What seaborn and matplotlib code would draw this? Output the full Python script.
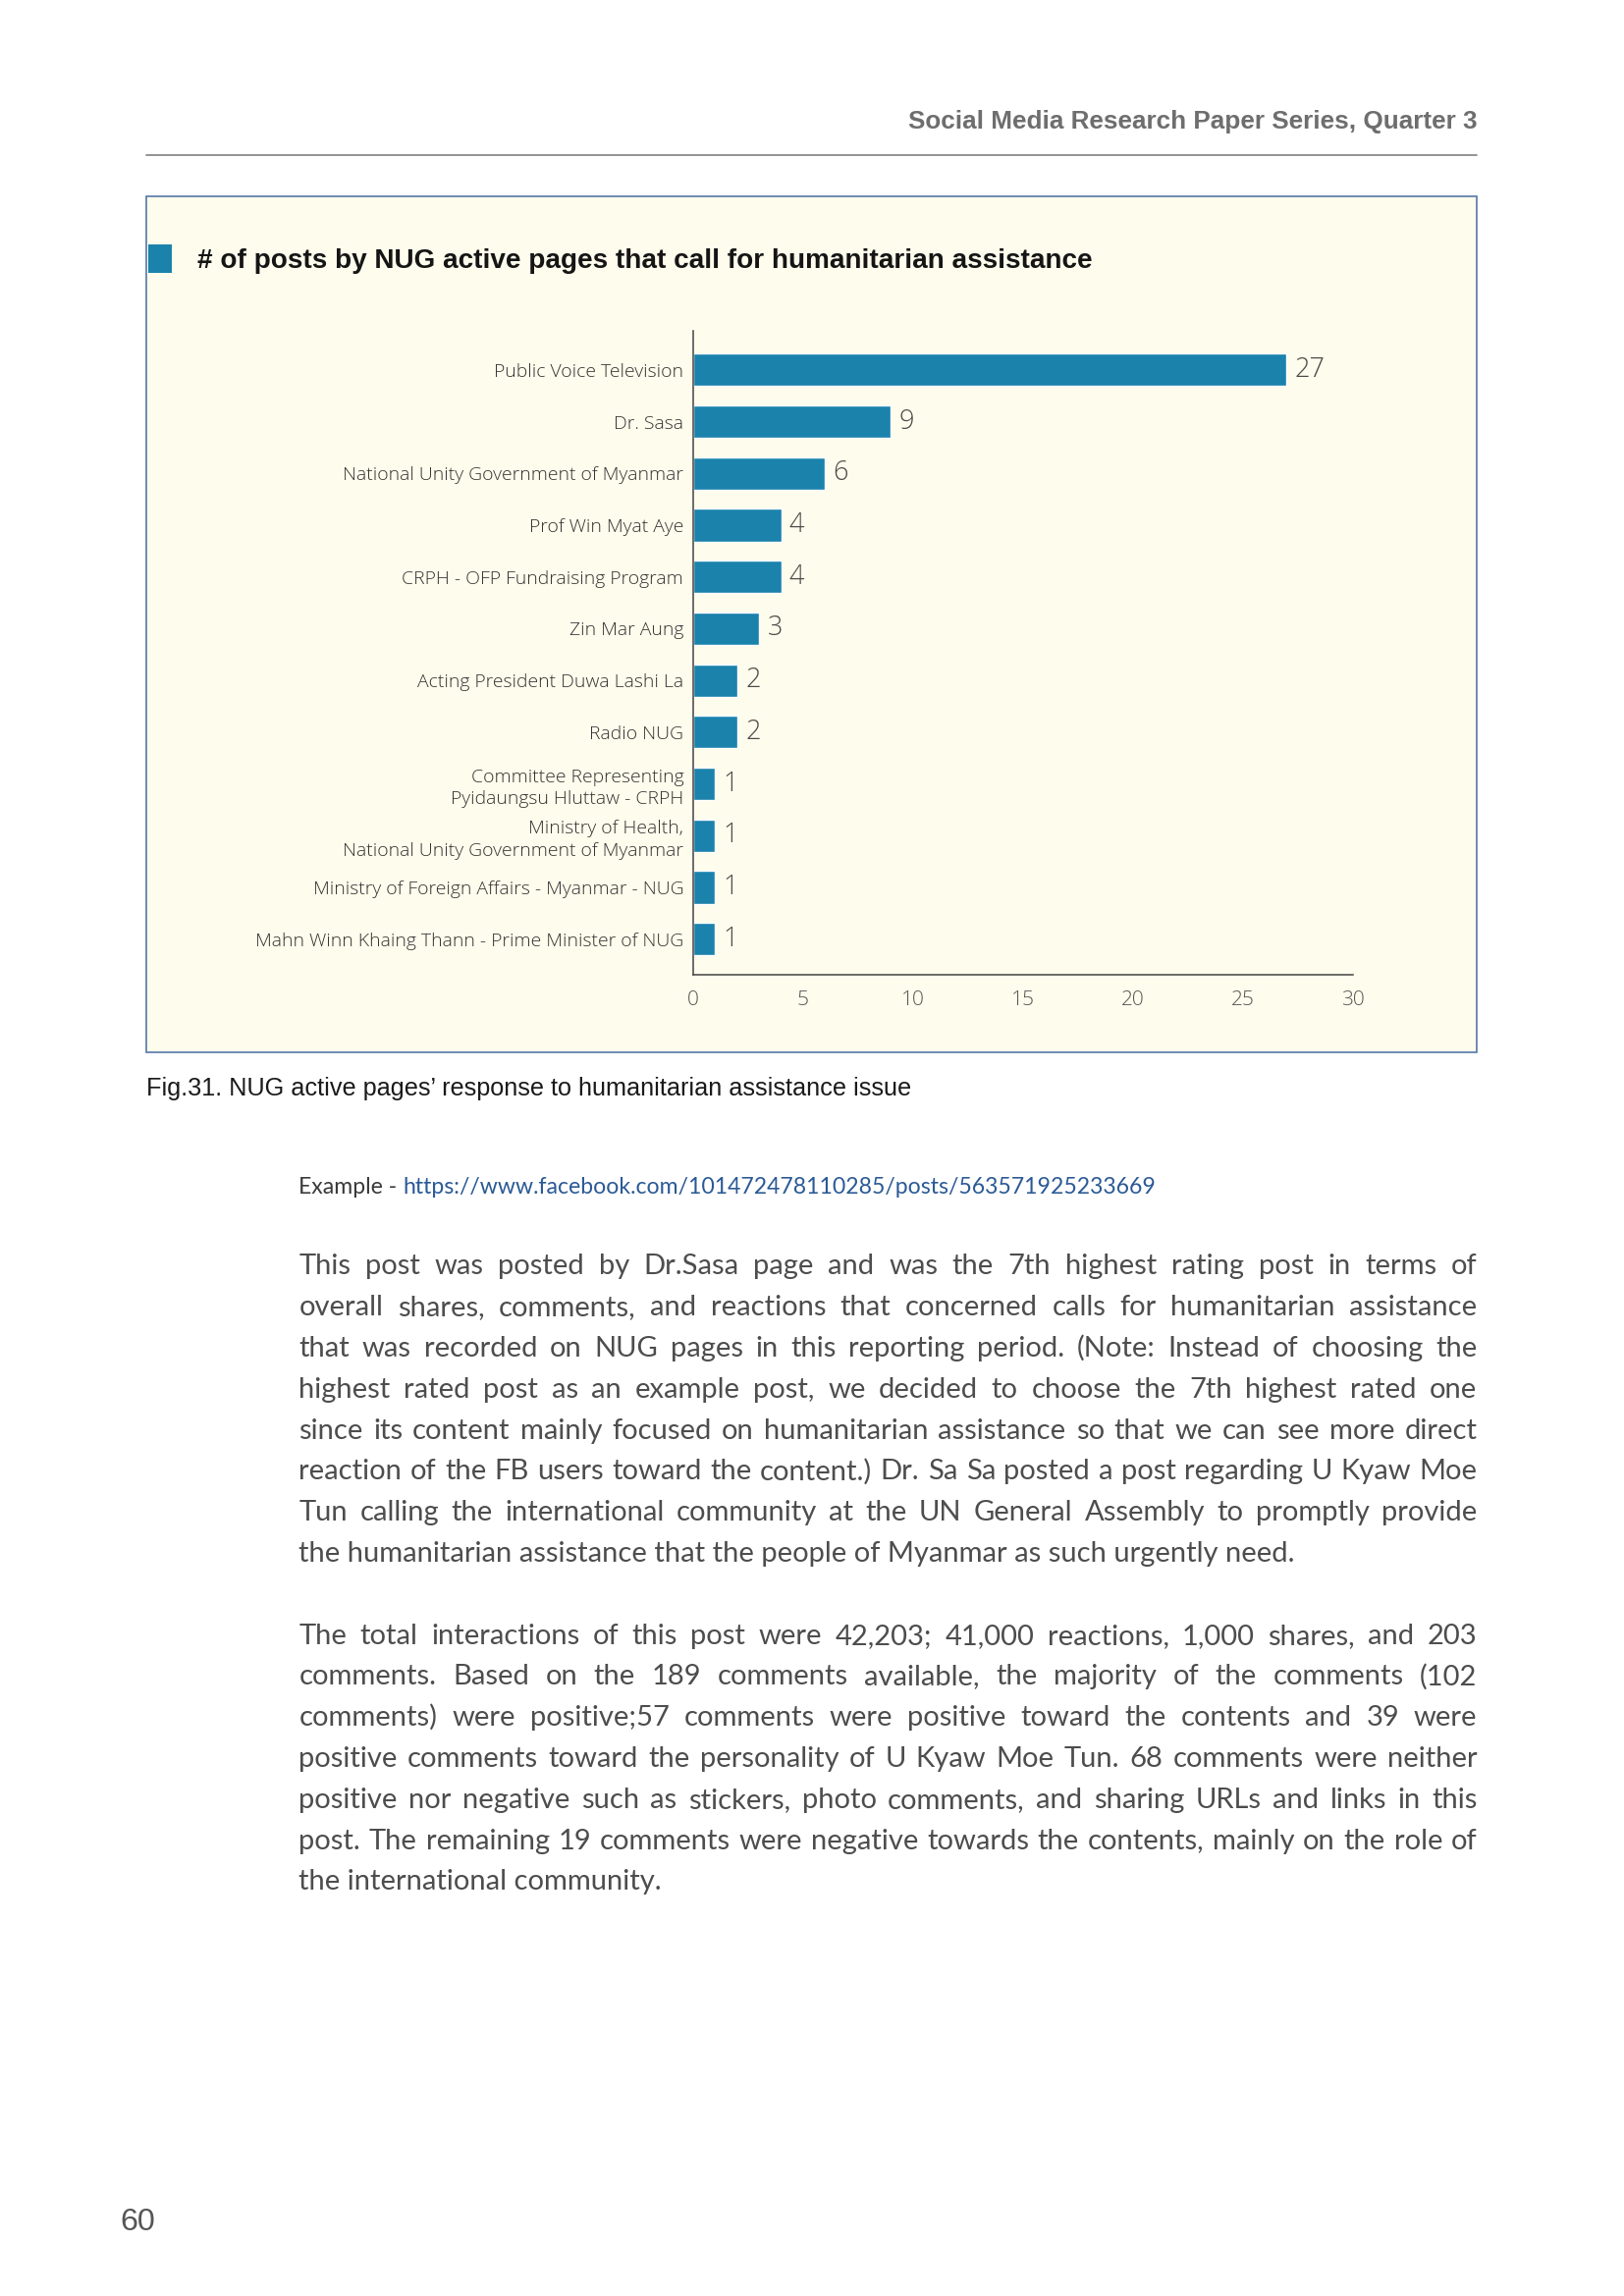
# NUG active pages - humanitarian assistance posts (page 60 recreation)

import numpy as np
import pandas as pd
import matplotlib
matplotlib.use("Agg")
import matplotlib.pyplot as plt
import seaborn as sns
from matplotlib.patches import Rectangle

# Data
pages = [
    "Public Voice Television",
    "Dr. Sasa",
    "National Unity Government of Myanmar",
    "Prof Win Myat Aye",
    "CRPH - OFP Fundraising Program",
    "Zin Mar Aung",
    "Acting President Duwa Lashi La",
    "Radio NUG",
    "Committee Representing\nPyidaungsu Hluttaw - CRPH",
    "Ministry of Health,\nNational Unity Government of Myanmar",
    "Ministry of Foreign Affairs - Myanmar - NUG",
    "Mahn Winn Khaing Thann - Prime Minister of NUG",
]
posts = [27, 9, 6, 4, 4, 3, 2, 2, 1, 1, 1, 1]
x_ticks = [0, 5, 10, 15, 20, 25, 30]

header = "Social Media Research Paper Series, Quarter 3"
title = "# of posts by NUG active pages that call for humanitarian assistance"
caption = "Fig.31. NUG active pages\u2019 response to humanitarian assistance issue"
example_label = "Example - "
example_url = "https://www.facebook.com/101472478110285/posts/563571925233669"
page_no = "60"

para1 = [
    "This post was posted by Dr.Sasa page and was the 7th highest rating post in terms of",
    "overall shares, comments, and reactions that concerned calls for humanitarian assistance",
    "that was recorded on NUG pages in this reporting period. (Note: Instead of choosing the",
    "highest rated post as an example post, we decided to choose the 7th highest rated one",
    "since its content mainly focused on humanitarian assistance so that we can see more direct",
    "reaction of the FB users toward the content.) Dr. Sa Sa posted a post regarding U Kyaw Moe",
    "Tun calling the international community at the UN General Assembly to promptly provide",
    "the humanitarian assistance that the people of Myanmar as such urgently need.",
]
para2 = [
    "The total interactions of this post were 42,203; 41,000 reactions, 1,000 shares, and 203",
    "comments. Based on the 189 comments available, the majority of the comments (102",
    "comments) were positive;57 comments were positive toward the contents and 39 were",
    "positive comments toward the personality of U Kyaw Moe Tun. 68 comments were neither",
    "positive nor negative such as stickers, photo comments, and sharing URLs and links in this",
    "post. The remaining 19 comments were negative towards the contents, mainly on the role of",
    "the international community.",
]

# Style
sns.set_style("white")
NARROW = ["Liberation Sans Narrow", "Liberation Sans", "DejaVu Sans"]
LIGHT = ["Open Sans", "DejaVu Sans"]
BODY = ["Lato", "Open Sans", "DejaVu Sans"]
plt.rcParams["font.family"] = LIGHT

BAR = "#1b82ac"
PANEL = "#fefcec"
TEXT = "#4d4d4d"

W, H = 1654, 2339
S = 1.4925  # page units (layout measured on a reduced page) -> pixels
fig = plt.figure(figsize=(W / 100, H / 100), dpi=100)
renderer = fig.canvas.get_renderer()


def fx(u):
    return u * S / W


def fy(u):
    return 1 - u * S / H


def text_width(s, size, **kw):
    t = fig.text(0, 0, s, fontsize=size, **kw)
    w = t.get_window_extent(renderer).width
    t.remove()
    return w


def fit_size(s, target_u, **kw):
    return 20 * target_u * S / text_width(s, 20, **kw)


# Header
hs = fit_size(header, 388, family=NARROW, fontweight="bold")
fig.text(fx(1008), fy(88), header, ha="right", va="baseline", fontsize=hs,
         family=NARROW, fontweight="bold", color="#6e6e6e")
fig.add_artist(plt.Line2D([fx(100), fx(1008)], [fy(106), fy(106)],
                          color="#8a8a8a", lw=1.3, transform=fig.transFigure))

# Chart panel
fig.add_artist(Rectangle((fx(100), fy(718)), fx(1008) - fx(100), fy(134) - fy(718),
                         transform=fig.transFigure, facecolor=PANEL,
                         edgecolor="#5577aa", lw=1.2, zorder=-1))
fig.add_artist(Rectangle((fx(101), fy(186)), fx(117) - fx(101), fy(167) - fy(186),
                         transform=fig.transFigure, facecolor=BAR, lw=0, zorder=1))
ts = fit_size(title, 607, family=NARROW, fontweight="bold")
fig.text(fx(135), fy(183), title, ha="left", va="baseline", fontsize=ts,
         family=NARROW, fontweight="bold", color="#151515")

# Bar chart
ax = fig.add_axes([fx(473), fy(665), fx(923) - fx(473), fy(226) - fy(665)])
ax.set_facecolor("none")
df = pd.DataFrame({"page": pages, "posts": posts})
sns.barplot(data=df, x="posts", y="page", orient="h", color=BAR, saturation=1,
            width=0.63, ax=ax)
ax.set_xlim(0, 30)
ax.set_ylim(11.68, -0.75)
ax.set_xticks(x_ticks)
ax.set_xlabel("")
ax.set_ylabel("")
sns.despine(ax=ax)
for side in ["left", "bottom"]:
    ax.spines[side].set_color("#444444")
    ax.spines[side].set_linewidth(1.1)

ls = fit_size("Mahn Winn Khaing Thann - Prime Minister of NUG", 292,
              family=LIGHT, fontweight="light")
ax.tick_params(axis="y", length=0, pad=7, labelsize=ls, labelcolor="#333333")
ax.tick_params(axis="x", direction="in", length=10.5, width=1.1, color="#444444",
               pad=12, labelsize=15, labelcolor="#555555")
for lab in ax.get_yticklabels() + ax.get_xticklabels():
    lab.set_fontweight("light")
    lab.set_linespacing(1.35)

ax.bar_label(ax.containers[0], padding=6, fontsize=19.5, color="#4a4a4a",
             fontweight="light")

# Caption
cs = fit_size(caption, 520, family=["Liberation Sans", "DejaVu Sans"])
fig.text(fx(100), fy(748), caption, ha="left", va="baseline", fontsize=cs,
         family=["Liberation Sans", "DejaVu Sans"], color="#1a1a1a")

# Example line
es = fit_size(example_label + example_url, 583, family=BODY)
lw_px = text_width(example_label, es, family=BODY)
fig.text(fx(204), fy(815), example_label, ha="left", va="baseline", fontsize=es,
         family=BODY, color="#3a3a3a")
fig.text(fx(204) + lw_px / W, fy(815), example_url, ha="left", va="baseline",
         fontsize=es, family=BODY, color="#2b5a96")

# Body paragraphs, justified
body_left, body_right = 204 * S, 1008 * S
widest = max(text_width(l, 20, family=BODY) for l in para1 + para2)
bs = 20 * (body_right - body_left) * 0.985 / widest


def justified(lines, top_u, step_u):
    for i, line in enumerate(lines):
        y = fy(top_u + i * step_u)
        if i == len(lines) - 1:
            fig.text(body_left / W, y, line, ha="left", va="baseline", fontsize=bs,
                     family=BODY, color=TEXT)
            continue
        words = line.split()
        widths = [text_width(w, bs, family=BODY) for w in words]
        gap = (body_right - body_left - sum(widths)) / (len(words) - 1)
        x = body_left
        for w, wd in zip(words, widths):
            fig.text(x / W, y, w, ha="left", va="baseline", fontsize=bs,
                     family=BODY, color=TEXT)
            x += wd + gap


justified(para1, 870, 28)
justified(para2, 1122, 28)

# Page number
ps = fit_size(page_no, 24, family=NARROW)
fig.text(fx(82), fy(1522), page_no, ha="left", va="baseline", fontsize=ps,
         family=NARROW, color="#555555")

fig.savefig("out.png", dpi=100, facecolor="white")
